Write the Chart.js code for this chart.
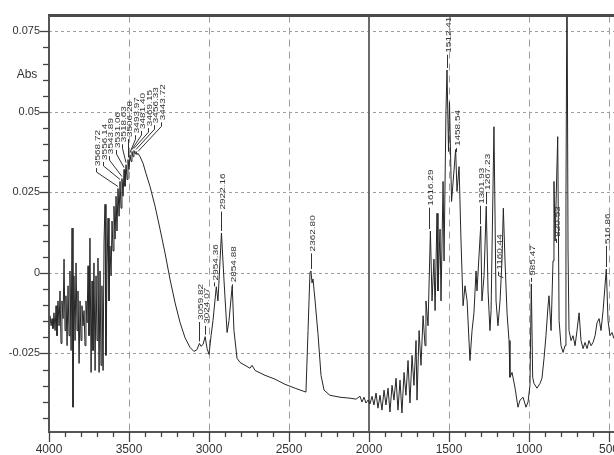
<!DOCTYPE html>
<html>
<head>
<meta charset="utf-8">
<script src="https://cdn.jsdelivr.net/npm/chart.js@4.4.1/dist/chart.umd.min.js"></script>
<style>
  html, body { margin: 0; padding: 0; overflow: hidden; background: #fff; width: 614px; height: 455px; }
  canvas { display: block; }
</style>
</head>
<body>
<canvas id="ir" width="660" height="455"></canvas>
<script>
// FTIR absorbance spectrum, wavenumber in cm-1 (descending)
const wavenumbers = [
  4000, 3994, 3987, 3981, 3975, 3969, 3962, 3956, 3950, 3944, 3937, 3931, 3925, 3919, 3912, 3906,
  3900, 3894, 3887, 3881, 3875, 3869, 3862, 3856, 3850, 3844, 3837, 3831, 3825, 3819, 3812, 3806,
  3800, 3794, 3787, 3781, 3775, 3769, 3762, 3756, 3750, 3744, 3737, 3731, 3725, 3719, 3712, 3706,
  3700, 3694, 3687, 3681, 3675, 3669, 3662, 3656, 3650, 3644, 3637, 3631, 3625, 3619, 3612, 3606,
  3600, 3594, 3587, 3581, 3575, 3568.72, 3562, 3556.14, 3550, 3543.89, 3537, 3531.06, 3525, 3518.63,
  3512, 3506.28, 3500, 3493.97, 3487, 3481.40, 3475, 3469.15, 3462, 3456.33, 3450, 3443.72,
  3431, 3412, 3394, 3369, 3337, 3306, 3275, 3244, 3212, 3181, 3150, 3119, 3094, 3075,
  3059.82, 3050, 3037, 3024.07, 3012, 3000, 2987, 2975, 2954.36, 2944, 2922.16, 2906, 2887, 2875,
  2854.88, 2844, 2825, 2806, 2775, 2744, 2731, 2712, 2650, 2587, 2525, 2462, 2412, 2394,
  2381, 2369, 2362.80, 2356, 2350, 2337, 2319, 2300, 2281, 2244, 2181, 2119, 2081, 2056,
  2044, 2031, 2019, 2006, 1994, 1981, 1969, 1956, 1944, 1931, 1919, 1906, 1894, 1881, 1869, 1856,
  1844, 1831, 1819, 1806, 1794, 1781, 1769, 1756, 1744, 1731, 1719, 1706, 1700, 1687, 1675, 1662,
  1650, 1644, 1631, 1616.29, 1606, 1594, 1587, 1575, 1569, 1556, 1550, 1537, 1531, 1519, 1512.41,
  1503, 1497, 1484, 1458.54, 1450, 1437, 1425, 1412, 1400, 1387, 1369, 1356, 1344, 1331, 1325,
  1301.93, 1294, 1281, 1267.23, 1256, 1244, 1237, 1219, 1206, 1194, 1181, 1169, 1160.44, 1150,
  1137, 1125, 1119, 1106, 1087, 1069, 1056, 1037, 1019, 1006, 994, 985.47, 977, 969, 950, 931,
  919, 906, 894, 881, 875, 862, 850, 844, 837, 820.53, 812, 800, 787, 775, 769, 762.5, 756, 750,
  737, 725, 712, 700, 687, 675, 662, 650, 637, 625, 612, 600, 587, 575, 562, 550, 537, 516.86,
  506, 494, 481, 469, 431, 400
];
const absorbance = [
  -0.0148, -0.0133, -0.0164, -0.0142, -0.0173, -0.0124, -0.0179, -0.0102, -0.0195, -0.0087, -0.0164, -0.0056, -0.0219, -0.0087, -0.0142, 0.0043,
  -0.0179, -0.0071, -0.0226, -0.0040, -0.0195, 0.0006, -0.0241, 0.0139, -0.0417, -0.0009, -0.0210, 0.0031, -0.0179, -0.0056, -0.0281, -0.0087,
  -0.0210, -0.0102, -0.0164, -0.0117, -0.0226, -0.0087, -0.0155, 0.0022, -0.0195, 0.0108, -0.0309, -0.0025, -0.0241, 0.0031, -0.0303, -0.0009,
  -0.0210, 0.0046, -0.0309, 0.0006, -0.0287, -0.0040, -0.0303, 0.0099, 0.0213, -0.0256, 0.0022, 0.0170, -0.0087, 0.0083, -0.0009, 0.0161,
  0.0068, 0.0207, 0.0105, 0.0238, 0.0130, 0.0262, 0.0176, 0.0284, 0.0201, 0.0293, 0.0238, 0.0321, 0.0269, 0.0336,
  0.0290, 0.0352, 0.0321, 0.0367, 0.0346, 0.0377, 0.0361, 0.0380, 0.0370, 0.0377, 0.0367, 0.0371,
  0.0361, 0.0340, 0.0309, 0.0269, 0.0207, 0.0136, 0.0062, -0.0019, -0.0093, -0.0154, -0.0201, -0.0231, -0.0244, -0.0238,
  -0.0219, -0.0228, -0.0222, -0.0198, -0.0235, -0.0253, -0.0195, -0.0148, -0.0043, -0.0087, 0.0124, -0.0025, -0.0185, -0.0148,
  -0.0040, -0.0179, -0.0265, -0.0278, -0.0287, -0.0296, -0.0287, -0.0303, -0.0318, -0.0330, -0.0346, -0.0358, -0.0367, -0.0370,
  -0.0179, 0.0000, 0.0006, -0.0031, -0.0019, -0.0087, -0.0188, -0.0318, -0.0364, -0.0380, -0.0386, -0.0389, -0.0392, -0.0383,
  -0.0401, -0.0386, -0.0404, -0.0395, -0.0407, -0.0383, -0.0410, -0.0373, -0.0420, -0.0380, -0.0426, -0.0364, -0.0410, -0.0358, -0.0432, -0.0349,
  -0.0395, -0.0327, -0.0426, -0.0333, -0.0435, -0.0309, -0.0380, -0.0272, -0.0404, -0.0256, -0.0349, -0.0210, -0.0395, -0.0179, -0.0287, -0.0133,
  -0.0226, -0.0087, -0.0164, 0.0130, -0.0087, 0.0043, -0.0117, 0.0185, -0.0056, 0.0136, -0.0087, 0.0284, 0.0037, 0.0500, 0.0630,
  0.0377, 0.0531, 0.0222, 0.0383, 0.0253, 0.0330, 0.0099, -0.0102, -0.0040, -0.0087, -0.0272, -0.0179, -0.0124, 0.0006, -0.0056,
  0.0145, -0.0087, -0.0009, 0.0207, -0.0056, -0.0179, -0.0117, 0.0454, -0.0087, -0.0164, -0.0087, 0.0037, 0.0201, 0.0037,
  -0.0127, -0.0210, -0.0324, -0.0309, -0.0358, -0.0417, -0.0395, -0.0386, -0.0417, -0.0401, -0.0349, -0.0034, -0.0324, -0.0343, -0.0358, -0.0343,
  -0.0327, -0.0265, -0.0195, -0.0102, -0.0071, -0.0179, 0.0037, 0.0284, 0.0099, 0.0423, -0.0148, -0.0226, -0.0247, -0.0226, 0.0222, 0.0950, 0.0068, -0.0179,
  -0.0210, -0.0195, -0.0226, -0.0179, -0.0124, -0.0210, -0.0235, -0.0216, -0.0235, -0.0210, -0.0226, -0.0216, -0.0195, -0.0155, -0.0142, -0.0179, -0.0117, 0.0012,
  -0.0148, -0.0195, -0.0185, -0.0204, -0.0210, -0.0216
];

// Picked peaks (cm-1)
const peakWavenumbers = [
  3568.72, 3556.14, 3543.89, 3531.06, 3518.63, 3506.28, 3493.97, 3481.40, 3469.15, 3456.33, 3443.72,
  3059.82, 3024.07, 2954.36, 2922.16, 2854.88, 2362.80, 1616.29, 1512.41, 1458.54,
  1301.93, 1267.23, 1160.44, 985.47, 820.53, 516.86
];
// Where each peak label sits: top of the label text (Abs units) and sideways shift (px)
const labelTopAbs = [
  0.0444, 0.0463, 0.0481, 0.0500, 0.0518, 0.0534, 0.0546, 0.0559, 0.0568, 0.0577, 0.0586,
  -0.0034, -0.0046, 0.0089, 0.0309, 0.0083, 0.0179, 0.0321, 0.0796, 0.0506,
  0.0327, 0.0370, 0.0120, 0.0086, 0.0207, 0.0185
];
const labelShiftPx = [
  -22, -17.5, -13, -8.5, -4, 0.5, 5, 9.5, 14, 18.5, 23,
  0, 0, -2, 0, 0, 0, -1, 0, 0,
  -1, 0, -5, 0, -2, 0
];

// Axis ticks
const xMajorTicks = [4000, 3500, 3000, 2500, 2000, 1500, 1000, 500];
const yMajorTicks = [-0.025, 0, 0.025, 0.05, 0.075];
const xRange = [400, 4000];
const yRange = [-0.0494, 0.0799];
const xMarker = 2000;

const xTickValues = [];
for (let w = xRange[0]; w <= xRange[1]; w += 100) xTickValues.push(w);
const yTickValues = [];
for (let k = -9; k <= 15; k++) yTickValues.push(+(k * 0.005).toFixed(3));

const FONT = "'Liberation Sans Narrow', 'Liberation Sans', Arial, sans-serif";
const INK = '#333';

const decor = {
  id: 'decor',
  beforeDatasetsDraw(chart) {
    const { ctx, chartArea: a, scales: { x, y } } = chart;
    ctx.save();
    ctx.lineWidth = 1;
    ctx.strokeStyle = '#9e9e9e';
    ctx.setLineDash([3, 3]);
    yMajorTicks.forEach(v => {
      const py = Math.round(y.getPixelForValue(v)) + 0.5;
      ctx.beginPath(); ctx.moveTo(a.left, py); ctx.lineTo(a.right, py); ctx.stroke();
    });
    ctx.setLineDash([7, 5]);
    xMajorTicks.forEach(w => {
      if (w === xRange[1] || w === xMarker) return;
      const px = Math.round(x.getPixelForValue(w)) + 0.5;
      ctx.beginPath(); ctx.moveTo(px, a.top); ctx.lineTo(px, a.bottom); ctx.stroke();
    });
    ctx.setLineDash([]);
    // solid cursor line
    const mx = Math.round(x.getPixelForValue(xMarker));
    ctx.strokeStyle = '#6b6b6b';
    ctx.lineWidth = 2;
    ctx.beginPath(); ctx.moveTo(mx, a.top); ctx.lineTo(mx, a.bottom); ctx.stroke();
    ctx.restore();
  },
  afterDatasetsDraw(chart) {
    const { ctx, chartArea: a, scales: { x, y } } = chart;
    ctx.save();
    // frame
    ctx.strokeStyle = '#4a4a4a';
    ctx.lineWidth = 3;
    ctx.beginPath(); ctx.moveTo(a.left - 1, a.top); ctx.lineTo(a.right, a.top); ctx.stroke();
    ctx.strokeStyle = '#555';
    ctx.lineWidth = 2;
    ctx.beginPath(); ctx.moveTo(a.left, a.top); ctx.lineTo(a.left, a.bottom + 1); ctx.stroke();
    ctx.beginPath(); ctx.moveTo(a.left, a.bottom); ctx.lineTo(a.right, a.bottom); ctx.stroke();
    // tick marks
    ctx.lineWidth = 1.3;
    ctx.strokeStyle = '#444';
    yTickValues.forEach(v => {
      const py = Math.round(y.getPixelForValue(v)) + 0.5;
      const major = yMajorTicks.some(m => Math.abs(m - v) < 1e-6);
      ctx.beginPath(); ctx.moveTo(a.left - (major ? 9 : 6), py); ctx.lineTo(a.left, py); ctx.stroke();
    });
    xTickValues.forEach(w => {
      const px = Math.round(x.getPixelForValue(w)) + 0.5;
      const major = xMajorTicks.includes(w);
      ctx.beginPath(); ctx.moveTo(px, a.bottom); ctx.lineTo(px, a.bottom + (major ? 10 : 5)); ctx.stroke();
    });
    // axis title
    ctx.fillStyle = INK;
    ctx.font = '12px ' + FONT;
    ctx.textAlign = 'center';
    ctx.textBaseline = 'middle';
    ctx.fillText('Abs', 27, y.getPixelForValue(0.0617));

    // peak labels with leader lines
    ctx.font = '10px ' + FONT;
    ctx.strokeStyle = '#333';
    ctx.lineWidth = 1;
    peakWavenumbers.forEach((w, i) => {
      const idx = wavenumbers.indexOf(w);
      const px = x.getPixelForValue(w);
      const py = y.getPixelForValue(absorbance[idx]);
      const lx = Math.round(px + labelShiftPx[i]) + 0.5;
      const top = y.getPixelForValue(labelTopAbs[i]);
      const text = w.toFixed(2);
      const len = ctx.measureText(text).width;
      const bottom = top + len;
      ctx.save();
      ctx.translate(lx + 3, top);
      ctx.rotate(-Math.PI / 2);
      ctx.scale(1, 0.8);
      ctx.textAlign = 'right';
      ctx.textBaseline = 'alphabetic';
      ctx.fillStyle = INK;
      ctx.fillText(text, 0, 0);
      ctx.restore();
      ctx.beginPath();
      if (Math.abs(labelShiftPx[i]) > 3) {
        ctx.moveTo(lx, bottom + 2);
        ctx.lineTo(lx, bottom + 6);
        ctx.lineTo(px, Math.max(bottom + 8, py - 2));
      } else {
        ctx.moveTo(lx, bottom + 2);
        ctx.lineTo(lx, Math.max(bottom + 6, py - 2));
      }
      ctx.stroke();
    });
    ctx.restore();
  }
};

new Chart(document.getElementById('ir'), {
  type: 'line',
  data: {
    datasets: [{
      data: wavenumbers.map((w, i) => ({ x: w, y: absorbance[i] })),
      borderColor: '#262626',
      borderWidth: 1,
      pointRadius: 0,
      tension: 0,
      fill: false
    }]
  },
  options: {
    responsive: false,
    animation: false,
    devicePixelRatio: 1,
    layout: { padding: { top: 13, right: 35, left: 0, bottom: 0 } },
    plugins: { legend: { display: false }, tooltip: { enabled: false } },
    scales: {
      x: {
        type: 'linear',
        reverse: true,
        min: xRange[0],
        max: xRange[1],
        grid: { display: false, drawTicks: false },
        border: { display: false },
        afterBuildTicks: s => { s.ticks = xTickValues.map(v => ({ value: v })); },
        afterFit: s => { s.height = 23; },
        ticks: {
          autoSkip: false,
          maxRotation: 0,
          padding: 10,
          color: INK,
          font: { family: FONT, size: 12 },
          callback: v => (xMajorTicks.includes(v) ? String(v) : '')
        }
      },
      y: {
        min: yRange[0],
        max: yRange[1],
        grid: { display: false, drawTicks: false },
        border: { display: false },
        afterBuildTicks: s => { s.ticks = yTickValues.map(v => ({ value: v })); },
        afterFit: s => { s.width = 49; },
        ticks: {
          autoSkip: false,
          padding: 9,
          color: INK,
          font: { family: FONT, size: 11 },
          callback: v => {
            const major = yMajorTicks.find(m => Math.abs(m - v) < 1e-6);
            return major === undefined ? '' : String(major);
          }
        }
      }
    }
  },
  plugins: [decor]
});
</script>
</body>
</html>
